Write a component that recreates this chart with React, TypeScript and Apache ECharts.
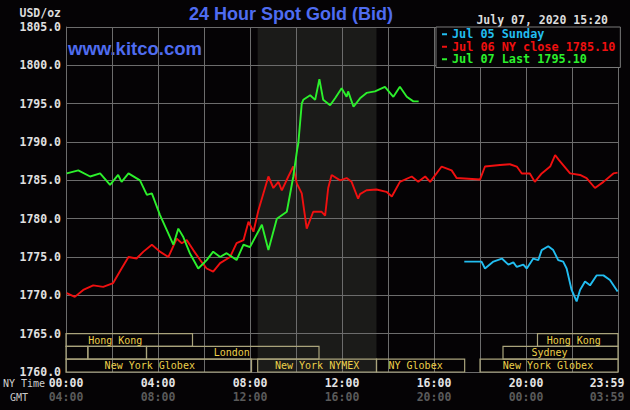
import React, { useEffect, useRef } from "react";
import * as echarts from "echarts";

// ---- data (minutes after 00:00 NY time, price USD/oz) ----
const GREEN_T = [2, 32, 63, 89, 115, 136, 145, 163, 193, 211, 224, 245, 263, 280, 293, 306, 323, 345, 367, 384, 402, 419, 445, 463, 480, 511, 528, 550, 576, 593, 603, 606, 615, 619, 637, 650, 661, 671, 689, 702, 719, 732, 736, 750, 767, 784, 806, 832, 854, 871, 889, 906, 920];
const GREEN_V = [1785.9, 1786.3, 1785.5, 1785.9, 1784.4, 1785.7, 1784.8, 1785.9, 1785.0, 1783.1, 1783.3, 1780.5, 1778.5, 1776.6, 1778.7, 1777.6, 1775.5, 1773.5, 1774.6, 1775.7, 1775.0, 1775.5, 1774.6, 1776.6, 1776.3, 1779.2, 1775.9, 1780.0, 1780.9, 1785.5, 1789.0, 1789.8, 1795.0, 1795.5, 1796.1, 1795.5, 1798.2, 1795.5, 1794.8, 1795.7, 1797.0, 1795.9, 1796.6, 1794.6, 1795.7, 1796.4, 1796.6, 1797.2, 1795.9, 1797.2, 1795.9, 1795.3, 1795.3];

const RED_T = [2, 23, 45, 71, 97, 123, 145, 163, 184, 202, 224, 245, 267, 289, 302, 315, 332, 350, 367, 384, 402, 428, 445, 463, 476, 489, 502, 528, 541, 554, 563, 580, 593, 602, 615, 628, 645, 667, 676, 684, 693, 715, 732, 745, 762, 767, 784, 810, 836, 850, 871, 902, 919, 937, 950, 980, 1006, 1019, 1080, 1093, 1132, 1158, 1176, 1189, 1210, 1223, 1241, 1263, 1276, 1285, 1315, 1341, 1358, 1380, 1402, 1428, 1439];
const RED_V = [1770.3, 1769.8, 1770.7, 1771.3, 1771.1, 1771.6, 1773.5, 1775.0, 1774.8, 1775.7, 1776.6, 1775.7, 1775.0, 1777.4, 1776.8, 1777.2, 1775.9, 1774.6, 1773.5, 1773.1, 1774.2, 1775.0, 1776.8, 1777.2, 1779.6, 1778.3, 1781.1, 1785.5, 1784.0, 1784.8, 1783.7, 1785.5, 1786.8, 1784.6, 1783.3, 1778.7, 1780.9, 1780.9, 1780.4, 1784.0, 1785.7, 1785.0, 1785.3, 1784.8, 1782.6, 1783.2, 1783.7, 1783.8, 1783.5, 1782.9, 1784.8, 1785.5, 1784.8, 1785.5, 1784.8, 1786.8, 1786.3, 1785.3, 1785.1, 1786.8, 1787.0, 1787.1, 1786.8, 1785.9, 1785.9, 1784.8, 1785.9, 1786.8, 1788.3, 1787.7, 1785.9, 1785.7, 1785.3, 1784.0, 1784.8, 1785.9, 1786.0];

const CYAN_T = [1039, 1084, 1093, 1115, 1137, 1154, 1167, 1176, 1193, 1202, 1219, 1232, 1241, 1258, 1271, 1284, 1297, 1306, 1319, 1332, 1341, 1354, 1367, 1384, 1402, 1419, 1439];
const CYAN_V = [1774.4, 1774.4, 1773.5, 1774.4, 1774.8, 1774.0, 1774.3, 1773.7, 1774.0, 1773.5, 1774.8, 1774.6, 1775.9, 1776.4, 1775.9, 1774.6, 1774.4, 1773.5, 1770.7, 1769.2, 1770.7, 1771.8, 1771.3, 1772.6, 1772.6, 1772.0, 1770.5];

const SERIES_NAMES = ["Jul 05 Sunday", "Jul 06 NY close 1785.10", "Jul 07 Last 1795.10"];

// market sessions: name, start min, end min, row (0 top .. 2 bottom)
const SESSION_NAMES = ["Hong Kong", "Hong Kong", "", "", "London", "Sydney", "New York Globex", "New York NYMEX", "NY Globex", "New York Globex"];
const SESSION_START = [0, 1230, 0, 57, 210, 1140, 0, 500, 810, 1080];
const SESSION_END = [330, 1440, 57, 210, 660, 1440, 484, 810, 1040, 1440];
const SESSION_ROW = [0, 0, 1, 1, 1, 1, 2, 2, 2, 2];

const COMEX_START = 500;
const COMEX_END = 810;

const Y_MIN = 1760;
const Y_MAX = 1805;
const Y_STEP = 5;
const X_MAX = 1440;
const X_STEP = 120;

// layout-only: horizontal label nudges for session boxes
const SESSION_LABEL_DX = [-14, -4, 0, 0, -1, -11, -9, 0, -5, -1];

const MONO = "'DejaVu Sans Mono', monospace";
const SANS = "'Liberation Sans', Arial, sans-serif";

const pad = (n: number) => (n < 10 ? "0" + n : "" + n);
const hhmm = (m: number) => pad(Math.floor(m / 60) % 24) + ":" + pad(m % 60);
const zip = (t: number[], v: number[]) => t.map((x, i) => [x, v[i]]);

export default function App() {
  const ref = useRef<HTMLDivElement>(null);
  useEffect(() => {
    if (!ref.current) return;
    const chart = echarts.init(ref.current, undefined, { renderer: "svg" });
    const rowH = Y_STEP / 3;
    const sessionAreas = SESSION_NAMES.map((name, i) => {
      const top = Y_MIN + Y_STEP - SESSION_ROW[i] * rowH;
      return [
        {
          name,
          xAxis: SESSION_START[i],
          yAxis: top,
          label: { offset: [SESSION_LABEL_DX[i], 0] },
        },
        { xAxis: SESSION_END[i], yAxis: top - rowH },
      ];
    });
    const lineColors = ["#22bdf0", "#f01010", "#2cf02c"];
    chart.setOption({
      animation: false,
      backgroundColor: "#050305",
      grid: { left: 66, right: 12, top: 27, bottom: 38, containLabel: false },
      xAxis: {
        type: "value",
        min: 0,
        max: X_MAX,
        interval: X_STEP,
        axisLine: { show: true, lineStyle: { color: "#6c6c6c", width: 1 } },
        axisTick: { show: false },
        splitLine: { show: true, lineStyle: { color: "#6c6c6c", width: 1 } },
        axisLabel: {
          margin: 4,
          formatter: (v: number) =>
            v % 240 === 0 && v < X_MAX ? `{a|${hhmm(v)}}\n{b|${hhmm(v + 240)}}` : "",
          rich: {
            a: { fontFamily: MONO, fontWeight: "bold", fontSize: 11.5, color: "#e4e4e4", lineHeight: 14 },
            b: { fontFamily: MONO, fontWeight: "bold", fontSize: 11.5, color: "#5a5a5a", lineHeight: 14 },
          },
        },
      },
      yAxis: {
        type: "value",
        min: Y_MIN,
        max: Y_MAX,
        interval: Y_STEP,
        axisLine: { show: true, lineStyle: { color: "#6c6c6c", width: 1 } },
        axisTick: { show: false },
        splitLine: { show: true, lineStyle: { color: "#6c6c6c", width: 1 } },
        axisLabel: {
          margin: 5,
          formatter: (v: number) => v.toFixed(1),
          fontFamily: MONO,
          fontWeight: "bold",
          fontSize: 11.5,
          color: "#e0e0e0",
        },
      },
      legend: {
        data: SERIES_NAMES.map((n, i) => ({ name: n, textStyle: { color: lineColors[i] } })),
        orient: "vertical",
        left: 436,
        top: 27,
        icon: "rect",
        itemWidth: 5,
        itemHeight: 2,
        itemGap: 0,
        padding: [1, 5, 2, 6],
        backgroundColor: "#050305",
        borderColor: "#7a7a7a",
        borderWidth: 1,
        selectedMode: false,
        textStyle: { fontFamily: MONO, fontWeight: "bold", fontSize: 11.8, lineHeight: 12.5 },
      },
      graphic: [
        { type: "text", left: 189, top: 5, style: { text: "24 Hour Spot Gold (Bid)", font: `bold 18px ${SANS}`, fill: "#4f6cf0" } },
        { type: "text", x: 68, y: 48, style: { text: "www.kitco.com", font: `bold 18.5px ${SANS}`, fill: "#4f6cf0", verticalAlign: "middle" } },
        { type: "text", x: 608, y: 20, style: { text: "July 07, 2020 15:20", font: `bold 11.5px ${MONO}`, fill: "#dcdcdc", align: "right", verticalAlign: "middle" } },
        { type: "text", x: 61, y: 13, style: { text: "USD/oz", font: `bold 11.5px ${MONO}`, fill: "#dcdcdc", align: "right", verticalAlign: "middle" } },
        { type: "text", x: 3, y: 383, style: { text: "NY Time", font: `10px ${MONO}`, fill: "#d0d0d0", verticalAlign: "middle" } },
        { type: "text", x: 10, y: 397, style: { text: "GMT", font: `10px ${MONO}`, fill: "#c8c8c8", verticalAlign: "middle" } },
        { type: "text", x: 607, y: 383, style: { text: hhmm(X_MAX - 1), font: `bold 11.5px ${MONO}`, fill: "#e4e4e4", align: "center", verticalAlign: "middle" } },
        { type: "text", x: 607, y: 397, style: { text: hhmm(X_MAX - 1 + 240), font: `bold 11.5px ${MONO}`, fill: "#5a5a5a", align: "center", verticalAlign: "middle" } },
      ],
      series: [
        {
          name: "comex",
          type: "line",
          z: -1,
          silent: true,
          data: [],
          markArea: {
            silent: true,
            z: -1,
            itemStyle: { color: "#1b1b19" },
            data: [[{ xAxis: COMEX_START, yAxis: Y_MIN }, { xAxis: COMEX_END, yAxis: Y_MAX }]],
          },
        },
        {
          name: "sessions",
          type: "line",
          z: 1,
          silent: true,
          data: [],
          markArea: {
            silent: true,
            itemStyle: { color: "rgba(0,0,0,0)", borderColor: "#aaa47c", borderWidth: 1.2 },
            label: { show: true, position: "inside", color: "#ecd04a", fontFamily: MONO, fontSize: 10 },
            data: sessionAreas,
          },
        },
        {
          name: SERIES_NAMES[0],
          type: "line",
          showSymbol: false,
          color: lineColors[0],
          lineStyle: { width: 1.9 },
          data: zip(CYAN_T, CYAN_V),
          z: 3,
        },
        {
          name: SERIES_NAMES[1],
          type: "line",
          showSymbol: false,
          color: lineColors[1],
          lineStyle: { width: 1.9 },
          data: zip(RED_T, RED_V),
          z: 3,
        },
        {
          name: SERIES_NAMES[2],
          type: "line",
          showSymbol: false,
          color: lineColors[2],
          lineStyle: { width: 1.9 },
          data: zip(GREEN_T, GREEN_V),
          z: 4,
        },
      ],
    });
    return () => chart.dispose();
  }, []);
  return <div ref={ref} style={{ position: "absolute", left: 0, top: 0, width: 630, height: 410 }} />;
}
